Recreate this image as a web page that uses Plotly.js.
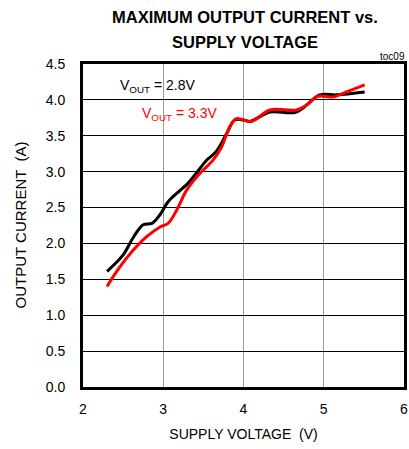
<!DOCTYPE html>
<html><head><meta charset="utf-8">
<script src="https://cdn.plot.ly/plotly-3.0.1.min.js"></script>
<style>body{margin:0;background:#fff}#c{width:409px;height:449px}</style>
</head><body><div id="c"></div>
<script>
const v28_x = [2.30, 2.50, 2.63, 2.75, 2.86, 2.96, 3.06, 3.21, 3.31, 3.44, 3.54, 3.66, 3.79, 3.89, 4.00, 4.08, 4.33, 4.66, 4.95, 5.16, 5.51];
const v28_y = [1.61, 1.84, 2.09, 2.26, 2.28, 2.40, 2.58, 2.74, 2.84, 3.02, 3.16, 3.28, 3.53, 3.72, 3.72, 3.70, 3.83, 3.83, 4.07, 4.07, 4.11];
const v33_x = [2.30, 2.42, 2.59, 2.79, 2.96, 3.06, 3.17, 3.29, 3.46, 3.62, 3.73, 3.83, 3.91, 4.00, 4.10, 4.33, 4.66, 4.79, 4.93, 5.12, 5.26, 5.51];
const v33_y = [1.40, 1.61, 1.86, 2.09, 2.23, 2.28, 2.47, 2.74, 2.98, 3.16, 3.35, 3.63, 3.74, 3.72, 3.70, 3.86, 3.86, 3.93, 4.05, 4.04, 4.10, 4.21];
const yTicks = [0, 0.5, 1, 1.5, 2, 2.5, 3, 3.5, 4, 4.5];
const yTickText = ["0.0","0.5","1.0","1.5","2.0","2.5","3.0","3.5","4.0","4.5"];
const xTicks = [2, 3, 4, 5, 6];
const titleLines = ['MAXIMUM OUTPUT CURRENT vs.', 'SUPPLY VOLTAGE'];

const F = '"Liberation Sans", Arial, sans-serif';
const traces = [
  {x: v28_x, y: v28_y, mode: 'lines', line: {color: '#000', width: 3, shape: 'spline', smoothing: 1}, hoverinfo: 'skip'},
  {x: v33_x, y: v33_y, mode: 'lines', line: {color: '#ff0000', width: 3, shape: 'spline', smoothing: 1}, hoverinfo: 'skip'}
];
const layout = {
  width: 409, height: 449,
  margin: {l: 83, r: 5, t: 64, b: 62},
  paper_bgcolor: '#fff', plot_bgcolor: '#fff',
  showlegend: false,
  font: {family: F, size: 13, color: '#000'},
  xaxis: {range: [2, 6], tickvals: xTicks, ticks: '', showgrid: true, gridcolor: '#999', gridwidth: 1,
    showline: true, linecolor: '#000', linewidth: 3, mirror: true, zeroline: false, ticklabelstandoff: 7,
    tickfont: {family: F, size: 14}, title: {text: 'SUPPLY VOLTAGE  (V)', font: {family: F, size: 14}, standoff: 14}},
  yaxis: {range: [0, 4.5], tickvals: yTicks, ticktext: yTickText, ticks: '', showgrid: true, gridcolor: '#000', gridwidth: 1,
    showline: true, linecolor: '#000', linewidth: 3, mirror: true, zeroline: false, ticklabelstandoff: 12,
    tickfont: {family: F, size: 14}},
  annotations: [
    {text: '<b>' + titleLines[0] + '</b>', x: 0.505, y: 1, xref: 'paper', yref: 'paper', xanchor: 'center', yanchor: 'middle', yshift: 47.5, showarrow: false, font: {family: F, size: 16.5, color: '#000'}},
    {text: '<b>' + titleLines[1] + '</b>', x: 0.505, y: 1, xref: 'paper', yref: 'paper', xanchor: 'center', yanchor: 'middle', yshift: 22, showarrow: false, font: {family: F, size: 16.5, color: '#000'}},
    {text: 'OUTPUT CURRENT  (A)', x: 0, y: 0.5, xref: 'paper', yref: 'paper', xanchor: 'center', yanchor: 'middle', xshift: -63, textangle: -90, showarrow: false, font: {family: F, size: 15, color: '#000'}},
    {text: 'V<sub>OUT</sub> = 2.8V', x: 2.44, y: 4.2, xref: 'x', yref: 'y', xanchor: 'left', showarrow: false, font: {family: F, size: 14, color: '#000'}},
    {text: 'V<sub>OUT</sub> = 3.3V', x: 2.71, y: 3.81, xref: 'x', yref: 'y', xanchor: 'left', showarrow: false, font: {family: F, size: 14, color: '#ff0000'}},
    {text: 'toc09', x: 1, y: 1, xref: 'paper', yref: 'paper', xanchor: 'right', yanchor: 'bottom', xshift: 3, showarrow: false, font: {family: F, size: 10, color: '#000'}}
  ]
};
Plotly.newPlot('c', traces, layout, {staticPlot: true});
</script></body></html>
